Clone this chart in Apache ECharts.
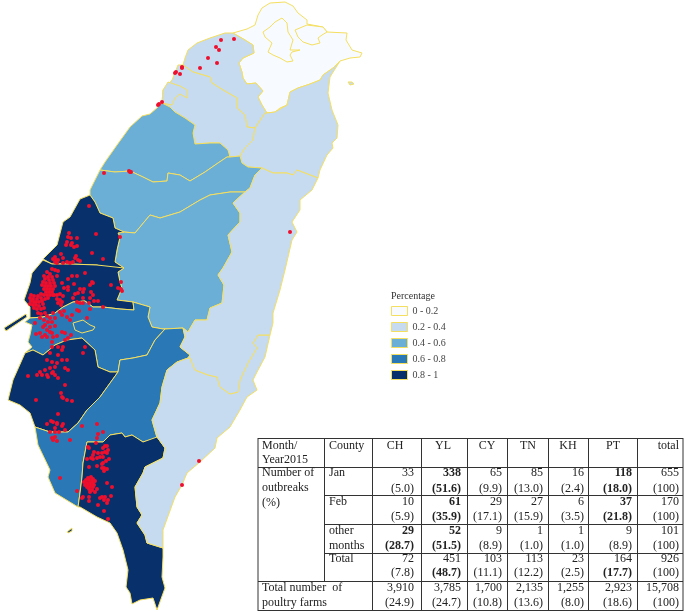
<!DOCTYPE html>
<html><head><meta charset="utf-8">
<style>html,body{margin:0;padding:0;background:#fff}#c{width:685px;height:612px}</style>
<script src="https://cdn.jsdelivr.net/npm/echarts@6/dist/echarts.min.js"></script>
</head><body><div id="c"></div>
<script>
// Boundaries, in map units (x east, y south)
const taipeiArea=[[233,33],[247,29],[255,25],[258,15],[262,8],[270,3],[285,2],[293,6],[298,13],[307,20],[307,24],[323,27],[327,32],[347,33],[346,40],[352,50],[362,53],[360,57],[350,58],[340,61],[333,68],[323,75],[320,80],[310,84],[298,88],[290,92],[287,105],[280,108],[275,112],[267,113],[262,105],[258,97],[263,91],[256,83],[247,84],[243,78],[242,72],[239,63],[243,58],[254,53],[253,45],[245,40]];
const taipeiCity=[[282,18],[287,23],[288,32],[293,40],[290,50],[300,50],[292,52],[290,55],[293,61],[287,62],[280,58],[273,55],[268,52],[272,43],[265,37],[263,32],[270,27],[275,22]];
const keelung=[[295,30],[307,25],[323,27],[327,32],[322,35],[318,38],[320,43],[312,45],[303,42],[298,37]];
const taoyuan=[[233,33],[245,40],[253,45],[254,53],[243,58],[239,63],[242,72],[243,78],[247,84],[256,83],[263,91],[258,97],[262,105],[267,113],[265,113],[255,128],[247,127],[245,115],[237,108],[237,98],[223,90],[212,83],[210,77],[193,72],[183,65],[185,58],[188,50],[197,43],[210,38],[225,33]];
const hsinchu=[[183,65],[193,72],[210,77],[212,83],[223,90],[237,98],[237,108],[245,115],[247,127],[255,128],[253,140],[245,148],[240,156],[230,157],[228,150],[220,143],[210,143],[195,144],[193,133],[195,125],[185,118],[175,112],[170,107],[162,103],[163,90],[172,80],[178,65]];
const hsinchuCity=[[168,82],[180,86],[187,90],[187,98],[180,94],[175,98],[172,105],[162,103],[163,90]];
const yilan=[[267,113],[275,112],[287,105],[290,92],[298,88],[310,84],[320,80],[323,75],[333,68],[340,61],[330,77],[328,93],[332,110],[338,125],[337,138],[332,143],[333,148],[327,155],[320,170],[318,178],[297,170],[293,175],[287,173],[273,173],[262,168],[248,167],[242,163],[240,156],[245,148],[253,140],[255,128],[265,113]];
const turtleIsland=[[348,82],[352,82],[354,84],[350,85]];
const miaoli=[[162,103],[158,107],[150,114],[142,116],[130,127],[117,145],[105,162],[100,170],[115,172],[130,171],[143,177],[153,182],[167,181],[168,173],[180,175],[190,181],[205,172],[218,163],[227,157],[230,157],[228,150],[220,143],[210,143],[195,144],[193,133],[195,125],[185,118],[175,112],[170,107]];
const taichung=[[100,170],[115,172],[130,171],[143,177],[153,182],[167,181],[168,173],[180,175],[190,181],[205,172],[218,163],[227,157],[230,157],[240,156],[242,163],[248,167],[262,168],[255,175],[250,188],[245,192],[230,192],[210,195],[200,200],[180,212],[160,218],[150,215],[135,233],[124,232],[115,228],[113,218],[100,213],[95,202],[90,195],[90,190],[95,180]];
const nantou=[[245,192],[233,203],[240,213],[240,222],[228,235],[232,252],[223,268],[218,275],[224,285],[222,303],[210,308],[207,320],[195,320],[188,332],[183,328],[163,329],[152,327],[148,317],[150,307],[133,302],[117,300],[122,288],[120,282],[118,272],[124,268],[115,262],[117,250],[120,237],[118,233],[124,232],[135,233],[150,215],[160,218],[180,212],[200,200],[210,195],[230,192]];
const changhua=[[80,199],[90,195],[95,202],[100,213],[113,218],[115,228],[124,232],[118,233],[120,237],[117,250],[115,262],[124,268],[110,269],[97,265],[70,264],[52,264],[43,259],[57,245],[63,222],[70,217]];
const yunlin=[[43,260],[52,264],[70,264],[97,265],[124,268],[118,272],[120,282],[122,288],[117,300],[133,302],[134,310],[120,309],[103,307],[93,307],[85,301],[73,302],[63,307],[55,313],[43,317],[30,318],[30,307],[24,300],[30,283],[32,273]];
const chiayi=[[30,318],[43,317],[55,313],[63,307],[73,302],[85,301],[93,307],[103,307],[120,309],[134,310],[133,302],[150,307],[148,317],[152,327],[163,329],[165,329],[155,340],[147,355],[133,358],[120,360],[118,372],[110,372],[98,367],[95,350],[82,338],[67,340],[55,345],[43,355],[33,350],[25,353],[32,347],[28,342],[30,335],[32,325],[25,322]];
const chiayiCity=[[73,323],[83,320],[90,325],[95,327],[93,330],[82,333],[75,330]];
const tainan=[[25,353],[33,350],[43,355],[55,345],[67,340],[82,338],[95,350],[98,367],[110,372],[118,372],[100,397],[87,410],[78,423],[68,432],[50,432],[35,427],[30,413],[20,405],[8,400],[13,380]];
const kaohsiung=[[68,432],[78,423],[87,410],[100,397],[118,372],[120,360],[133,358],[147,355],[155,340],[165,329],[183,328],[185,337],[180,347],[190,355],[188,358],[177,362],[167,370],[162,387],[160,403],[152,420],[157,438],[143,442],[132,435],[125,437],[122,433],[110,435],[103,442],[87,442],[83,463],[82,477],[80,493],[78,507],[55,493],[48,477],[50,470],[38,445],[35,427],[50,432]];
const pingtung=[[78,507],[80,493],[82,477],[83,463],[87,442],[103,442],[110,435],[122,433],[125,437],[132,435],[143,442],[157,437],[165,448],[163,458],[145,467],[143,473],[135,487],[137,507],[142,515],[137,523],[145,535],[147,543],[163,548],[163,557],[162,577],[165,588],[157,610],[153,598],[140,600],[132,604],[130,593],[126,587],[128,570],[123,550],[117,533],[110,523],[97,517],[80,507]];
const taitung=[[190,358],[195,370],[208,375],[217,377],[220,387],[230,394],[238,392],[240,380],[248,363],[257,348],[253,343],[258,335],[270,335],[265,357],[257,372],[253,380],[257,390],[247,397],[240,410],[230,427],[217,438],[215,448],[200,462],[187,473],[182,485],[175,497],[163,530],[163,548],[147,543],[145,535],[137,523],[142,515],[137,507],[135,487],[143,473],[145,467],[163,458],[165,448],[157,437],[152,420],[160,403],[162,387],[167,370],[177,362],[188,358]];
const hualien=[[262,168],[273,173],[287,173],[293,175],[297,170],[318,178],[312,190],[300,200],[300,210],[292,222],[297,232],[292,240],[285,270],[280,290],[273,313],[273,323],[270,335],[258,335],[253,343],[257,348],[248,363],[240,380],[238,392],[230,394],[220,387],[217,377],[208,375],[195,370],[190,358],[188,358],[190,355],[180,347],[185,337],[183,328],[188,332],[195,320],[207,320],[210,308],[222,303],[224,285],[218,275],[223,268],[232,252],[228,235],[240,222],[240,213],[233,203],[245,192],[250,188],[255,175]];
const westIslet=[[4,328],[26,314],[27,317],[6,331]];
const southIslet=[[67,532],[72,528],[72,531],[68,533]];

// Percentage class of each county (index into classNames)
const classNames=['0 - 0.2','0.2 - 0.4','0.4 - 0.6','0.6 - 0.8','0.8 - 1'];
const classColors=['#F7FBFF','#C6DBEF','#6BAED6','#2B78B6','#08306B'];
const countyShapes={taipeiArea,taipeiCity,keelung,taoyuan,hsinchu,hsinchuCity,yilan,turtleIsland,miaoli,taichung,nantou,changhua,yunlin,chiayi,chiayiCity,tainan,kaohsiung,pingtung,taitung,hualien,westIslet,southIslet};
const countyClass={taipeiArea:0,taipeiCity:0,keelung:0,taoyuan:1,hsinchu:1,hsinchuCity:1,yilan:1,turtleIsland:1,miaoli:2,taichung:2,nantou:2,changhua:4,yunlin:4,chiayi:3,chiayiCity:3,tainan:4,kaohsiung:3,pingtung:4,taitung:1,hualien:1,westIslet:4,southIslet:4};

// Outbreak locations, same map units
const northFarms=[[221,40],[234,39],[216,47],[219,50],[208,58],[217,63],[200,68],[182,67],[182,68],[176,72],[175,73],[180,74],[162,102],[159,104],[158,105],[131,172],[129,171],[130,172],[104,173],[290,232]];
const changhuaFarms=[[89,206],[96,234],[69,233],[68,237],[71,238],[77,238],[67,242],[72,243],[66,245],[71,245],[77,246],[74,247],[92,253],[103,259],[120,237],[61,254],[55,257],[53,259],[56,260],[58,260],[55,262],[57,263],[63,258],[76,256],[75,258],[78,260],[73,262],[80,261],[63,263],[67,262],[70,263]];
const yunlinFarms=[[52,269],[55,270],[47,272],[50,274],[44,276],[48,277],[52,277],[45,279],[49,280],[53,280],[43,282],[46,283],[50,283],[54,283],[42,285],[45,286],[48,286],[51,286],[55,286],[44,289],[47,289],[50,289],[53,289],[46,292],[49,292],[52,292],[41,294],[44,295],[47,295],[50,295],[54,295],[41,298],[38,296],[45,299],[48,298],[42,301],[31,295],[34,296],[37,299],[30,298],[33,299],[36,302],[39,302],[31,301],[34,302],[30,304],[33,305],[36,305],[39,306],[43,304],[34,308],[37,309],[41,309],[44,308],[38,313],[41,314],[45,313],[40,318],[44,320],[47,316],[57,295],[60,294],[63,296],[57,299],[60,300],[62,302],[58,303],[61,305],[58,271],[57,276],[72,276],[68,279],[77,276],[85,273],[62,283],[64,288],[68,287],[74,284],[53,295],[68,290],[80,289],[83,292],[90,285],[92,282],[93,283],[84,289],[78,293],[75,294],[91,292],[93,295],[73,298],[83,298],[90,298],[94,301],[98,301],[111,285],[121,282],[118,288],[121,289],[122,291],[103,307]];
const chiayiFarms=[[77,302],[80,303],[83,303],[89,303],[90,309],[77,310],[79,311],[87,318],[72,315],[67,317],[70,320],[64,311],[60,312],[62,315],[53,313],[50,318],[55,318],[52,322],[48,322],[45,325],[55,326],[50,327],[43,327],[47,330],[50,332],[35,323],[40,333],[42,337],[45,335],[36,334],[47,337],[52,333],[53,337],[52,342],[62,332],[65,333],[57,336],[71,335],[68,338],[65,340]];
const tainanFarms=[[85,347],[83,353],[63,347],[62,350],[58,347],[52,347],[58,355],[50,353],[62,360],[47,360],[52,362],[57,363],[67,360],[68,370],[65,368],[55,367],[53,372],[50,368],[45,370],[40,372],[37,375],[42,375],[47,375],[55,375],[52,373],[28,376],[48,377],[65,385],[58,378],[61,393],[62,397],[63,398],[67,400],[72,401],[36,400],[58,414],[47,424],[51,421],[53,422],[57,423],[57,424],[63,424],[62,426],[55,428],[50,432],[55,432],[59,432],[65,430]];
const kaohsiungFarms=[[82,426],[97,424],[98,434],[103,432],[97,438],[70,440],[57,441],[52,438],[55,437],[53,440],[60,478],[77,491]];
const pingtungFarms=[[96,443],[88,447],[89,448],[94,452],[93,455],[105,446],[107,446],[103,448],[108,450],[107,453],[105,452],[98,453],[102,453],[100,457],[103,457],[97,458],[87,459],[91,458],[93,459],[109,459],[106,461],[103,463],[102,464],[97,466],[89,467],[102,468],[104,468],[107,469],[104,471],[88,478],[91,477],[93,479],[86,480],[89,480],[92,481],[95,481],[84,482],[87,483],[90,483],[93,483],[85,485],[88,485],[91,485],[94,485],[87,487],[90,487],[93,487],[89,489],[92,490],[97,489],[95,492],[90,492],[107,483],[112,487],[89,497],[89,501],[83,497],[82,498],[111,496],[102,497],[105,497],[100,498],[108,500],[107,503],[104,500],[98,505],[104,511],[108,519],[199,461],[182,485]];

// Table
const tableCounties=['CH','YL','CY','TN','KH','PT','total'];
const janCounts=['33','338','65','85','16','118','655'];
const janShare=['(5.0)','(51.6)','(9.9)','(13.0)','(2.4)','(18.0)','(100)'];
const febCounts=['10','61','29','27','6','37','170'];
const febShare=['(5.9)','(35.9)','(17.1)','(15.9)','(3.5)','(21.8)','(100)'];
const otherCounts=['29','52','9','1','1','9','101'];
const otherShare=['(28.7)','(51.5)','(8.9)','(1.0)','(1.0)','(8.9)','(100)'];
const totalCounts=['72','451','103','113','23','164','926'];
const totalShare=['(7.8)','(48.7)','(11.1)','(12.2)','(2.5)','(17.7)','(100)'];
const farmCounts=['3,910','3,785','1,700','2,135','1,255','2,923','15,708'];
const farmShare=['(24.9)','(24.7)','(10.8)','(13.6)','(8.0)','(18.6)','(100)'];
const boldCells={jan:[1,5],feb:[1,5],other:[0,1],total:[],totalShare:[1,5]};

const features=Object.keys(countyShapes).map(name=>({
  type:'Feature',properties:{name},
  geometry:{type:'Polygon',coordinates:[countyShapes[name].concat([countyShapes[name][0]]).map(p=>[p[0],-p[1]])]}
}));
echarts.registerMap('taiwan',{type:'FeatureCollection',features});
const toMap=list=>list.map(p=>[p[0],-p[1]]);
const allFarms=[].concat(northFarms,changhuaFarms,yunlinFarms,chiayiFarms,tainanFarms,kaohsiungFarms,pingtungFarms);

// table drawing
const FONT='12px "Liberation Serif"', BOLD='bold 12px "Liberation Serif"', INK='#222';
const T=[];
const txt=(s,x,y,align,font)=>T.push({type:'text',silent:true,style:{text:s,x,y,align:align||'left',verticalAlign:'middle',font:font||FONT,fill:INK}});
const line=(x1,y1,x2,y2,w)=>T.push({type:'line',silent:true,shape:{x1,y1,x2,y2},style:{stroke:'#333',lineWidth:w||1}});
const colRight=[414,461,502,543,584,632,679];
const colHead=[395,443,487,528,568,613];
[438.5,467.5,581.5,610.5].forEach(y=>line(258,y,683,y));
[495.5,524.5,553.5].forEach(y=>line(324,y,683,y));
line(258,438,258,611);line(683,438,683,611);line(324.5,438,324.5,581);
[372.5,421.5,467.5,507.5,548.5,588.5,637.5].forEach(x=>line(x,438,x,611));
txt('Month/',262,446);txt('Year2015',262,460);txt('County',329,446);
tableCounties.forEach((c,i)=>i<6?txt(c,colHead[i],446,'center'):txt(c,colRight[i],446,'right'));
txt('Number of',262,473);txt('outbreaks',262,488);txt('(%)',262,503);
txt('Jan',329,473);txt('Feb',329,502);txt('other',329,531);txt('months',329,546);txt('Total',329,559);
txt('Total number  of',262,588);txt('poultry farms',262,603);
function row(counts,share,y1,y2,bold,boldShare){
  counts.forEach((v,i)=>{
    txt(v,colRight[i],y1,'right',bold.includes(i)?BOLD:FONT);
    txt(share[i],colRight[i],y2,'right',(boldShare||bold).includes(i)?BOLD:FONT);
  });
}
row(janCounts,janShare,473,489,boldCells.jan);
row(febCounts,febShare,502,517,boldCells.feb);
row(otherCounts,otherShare,531,546,boldCells.other);
row(totalCounts,totalShare,559,573,boldCells.total,boldCells.totalShare);
row(farmCounts,farmShare,588,603,[]);

const BORDER='#F5DF5F';
const chart=echarts.init(document.getElementById('c'),null,{renderer:'canvas'});
chart.setOption({
  animation:false,
  backgroundColor:'#fff',
  title:{text:'Percentage',left:391,top:291,padding:0,textStyle:{fontFamily:'Liberation Serif',fontSize:10,fontWeight:'normal',color:'#333'}},
  legend:{orient:'vertical',left:391,top:306,padding:0,icon:'rect',itemWidth:16,itemHeight:9,itemGap:6,selectedMode:false,
    itemStyle:{borderColor:BORDER,borderWidth:1,opacity:1},
    textStyle:{fontFamily:'Liberation Serif',fontSize:10,color:'#444'},
    data:classNames},
  geo:{map:'taiwan',silent:true,roam:false,aspectScale:1,
    boundingCoords:[[0,0],[685,-612]],layoutCenter:['50%','50%'],layoutSize:685,
    label:{show:false},
    itemStyle:{borderColor:BORDER,borderWidth:1,areaColor:'#fff'},
    emphasis:{disabled:true},
    regions:Object.keys(countyClass).map(name=>({name,itemStyle:{areaColor:classColors[countyClass[name]]}}))
  },
  graphic:T,
  series:classNames.map((n,i)=>({name:n,type:'scatter',coordinateSystem:'geo',data:[],itemStyle:{color:classColors[i],opacity:1}})).concat([
    {name:'Outbreaks',type:'scatter',coordinateSystem:'geo',silent:true,symbol:'circle',symbolSize:4,
     itemStyle:{color:'#EE0F2D',opacity:1},data:toMap(allFarms),z:5}
  ])
});
</script></body></html>
